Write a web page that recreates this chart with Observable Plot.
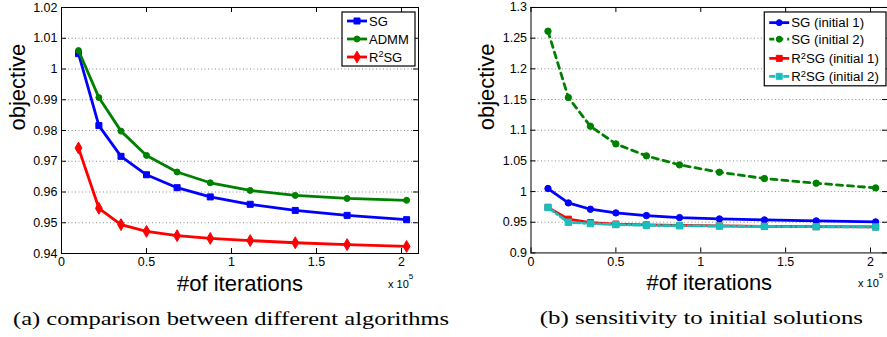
<!DOCTYPE html>
<html>
<head>
<meta charset="utf-8">
<script src="https://cdn.jsdelivr.net/npm/d3@7"></script>
<script src="https://cdn.jsdelivr.net/npm/@observablehq/plot@0.6"></script>
<style>
html, body { margin: 0; padding: 0; background: #fff; overflow: hidden; }
#wrap { position: relative; width: 887px; height: 337px; overflow: hidden; background: #fff; }
#a, #b { position: absolute; top: 0; }
#a { left: 0; }
#b { left: 440px; }
</style>
</head>
<body>
<div id="wrap"><div id="a"></div><div id="b"></div></div>
<script>
// ---- data ----
const iterations = [10000, 22000, 35000, 50000, 68000, 87500, 111000, 137500, 168000, 203000];
const xTicks = [0, 50000, 100000, 150000, 200000];

// (a) comparison between different algorithms
const sgA   = [1.0050, 0.9816, 0.9716, 0.9656, 0.9614, 0.9584, 0.9560, 0.9540, 0.9524, 0.9510];
const admmA = [1.0060, 0.9907, 0.9798, 0.9719, 0.9665, 0.9630, 0.9605, 0.9589, 0.9579, 0.9573];
const r2sgA = [0.9743, 0.9547, 0.9494, 0.9472, 0.9458, 0.9449, 0.9442, 0.9435, 0.9429, 0.9423];
const yTicksA = [0.94, 0.95, 0.96, 0.97, 0.98, 0.99, 1.00, 1.01, 1.02];

// (b) sensitivity to initial solutions
const sgB1   = [1.0049, 0.9815, 0.9712, 0.9652, 0.9609, 0.9576, 0.9554, 0.9538, 0.9522, 0.9505];
const sgB2   = [1.2614, 1.1533, 1.1065, 1.0777, 1.0582, 1.0435, 1.0315, 1.0212, 1.0136, 1.0060];
const r2sgB1 = [0.9743, 0.9550, 0.9494, 0.9470, 0.9457, 0.9448, 0.9441, 0.9434, 0.9428, 0.9423];
const r2sgB2 = [0.9740, 0.9500, 0.9478, 0.9462, 0.9449, 0.9443, 0.9437, 0.9432, 0.9427, 0.9422];
const yTicksB = [0.90, 0.95, 1.00, 1.05, 1.10, 1.15, 1.20, 1.25, 1.30];

const FONT = "'Liberation Sans', Arial, Helvetica, sans-serif";
const SERIF = "'Liberation Serif', 'DejaVu Serif', serif";

function rows(vals) { return iterations.map((x, i) => ({x, y: vals[i]})); }
function fmtY(d) { return String(+d.toFixed(3)); }

function panel({width, marginLeft, marginRight, yDomain, yTicks, series}) {
  const marginTop = 7, marginBottom = 84, height = 337;
  const pw = width - marginLeft - marginRight;
  const ph = height - marginTop - marginBottom;
  const marks = [
    Plot.gridY(yTicks.slice(1, -1), {stroke: "#8a8a8a", strokeOpacity: 1, strokeDasharray: "1,2.5", strokeWidth: 1}),
    // inward ticks on all four sides
    Plot.tickY(yTicks, {y: d => d, insetRight: pw - 5, stroke: "black"}),
    Plot.tickY(yTicks, {y: d => d, insetLeft: pw - 5, stroke: "black"}),
    Plot.tickX(xTicks, {x: d => d, insetTop: ph - 5, stroke: "black"}),
    Plot.tickX(xTicks, {x: d => d, insetBottom: ph - 5, stroke: "black"}),
    Plot.axisY({ticks: yTicks, tickSize: 0, tickPadding: 4, tickFormat: fmtY, fontSize: 12.5, label: null}),
    Plot.axisX({ticks: xTicks, tickSize: 0, tickPadding: 4, tickFormat: d => String(d / 1e5), fontSize: 12.5, label: null}),
  ];
  for (const s of series) {
    marks.push(Plot.line(rows(s.values), {x: "x", y: "y", stroke: s.color, strokeWidth: 2.8, strokeDasharray: s.dash || null}));
    marks.push(Plot.dot(rows(s.values), {x: "x", y: "y", symbol: s.symbol, r: s.r, fill: s.color, stroke: s.color, strokeWidth: 1}));
  }
  marks.push(Plot.frame({stroke: "black", strokeWidth: 1}));
  marks.push(Plot.text(["#of iterations"], {frameAnchor: "bottom", lineAnchor: "middle", dy: 30, fontSize: 22, fill: "black"}));
  marks.push(Plot.text(["objective"], {frameAnchor: "left", rotate: -90, dx: -44, fontSize: 22, fill: "black"}));
  return Plot.plot({
    width, height, marginLeft, marginRight, marginTop, marginBottom,
    style: {fontFamily: FONT, fontSize: "12.5px", color: "black", background: "transparent", overflow: "visible"},
    x: {domain: [0, 210000], label: null},
    y: {domain: yDomain, label: null},
    marks
  });
}

function addLegend(svg, {x, y, w, h, items, fontSize}) {
  const g = d3.select(svg).append("g").attr("font-family", FONT).attr("font-size", fontSize)
    .attr("text-anchor", "start");
  g.append("rect").attr("x", x).attr("y", y).attr("width", w).attr("height", h)
    .attr("fill", "white").attr("stroke", "black").attr("stroke-width", 1.2);
  for (const it of items) {
    g.append("line").attr("x1", x + 5).attr("x2", x + 25).attr("y1", it.y).attr("y2", it.y)
      .attr("stroke", it.color).attr("stroke-width", 2.8).attr("stroke-dasharray", it.dash || null);
    const cx = x + 15, cy = it.y;
    const sym = {circle: d3.symbolCircle, square: d3.symbolSquare, diamond: d3.symbolDiamond}[it.symbol];
    g.append("path").attr("transform", `translate(${cx},${cy})`)
      .attr("d", d3.symbol(sym, it.symbol === "square" ? 36 : it.symbol === "diamond" ? 40 : 28)())
      .attr("fill", it.color).attr("stroke", it.color);
    const t = g.append("text").attr("x", x + 27).attr("y", it.y).attr("dy", "0.35em").attr("fill", "black")
      .attr("text-anchor", "start");
    if (it.sup) {
      t.append("tspan").text("R");
      t.append("tspan").attr("font-size", fontSize * 0.7).attr("dy", "-0.45em").text("2");
      t.append("tspan").attr("dy", "0.32em").text(it.label);
    } else {
      t.text(it.label);
    }
  }
}

function addExp(svg, x) {
  const g = d3.select(svg).append("g").attr("font-family", FONT).attr("fill", "black").attr("text-anchor", "start");
  const t = g.append("text").attr("x", x).attr("y", 288).attr("font-size", 11);
  t.append("tspan").text("x 10");
  t.append("tspan").attr("font-size", 8).attr("dy", -9).text("5");
}

function addCaption(svg, x, len, text) {
  d3.select(svg).append("text").attr("x", x).attr("y", 325).attr("text-anchor", "start")
    .attr("font-family", SERIF).attr("font-size", 18).attr("fill", "black")
    .attr("textLength", len).attr("lengthAdjust", "spacingAndGlyphs").text(text);
}

// ---- panel (a) ----
const blue = "#0000ff", green = "#008000", red = "#ff0000", cyan = "#19bfbf";
const svgA = panel({
  width: 440, marginLeft: 61, marginRight: 22,
  yDomain: [0.94, 1.02], yTicks: yTicksA,
  series: [
    {values: sgA, color: blue, symbol: "square", r: 3.4},
    {values: admmA, color: green, symbol: "circle", r: 3},
    {values: r2sgA, color: red, symbol: "diamond", r: 3.6}
  ]
});
document.getElementById("a").appendChild(svgA);
addLegend(svgA, {x: 342, y: 12, w: 73, h: 54, fontSize: 13, items: [
  {y: 21, color: blue, symbol: "square", label: "SG"},
  {y: 39, color: green, symbol: "circle", label: "ADMM"},
  {y: 57, color: red, symbol: "diamond", label: "SG", sup: true}
]});
addExp(svgA, 388);
addCaption(svgA, 13, 436, "(a) comparison between different algorithms");

// ---- panel (b) ----
const svgB = panel({
  width: 448, marginLeft: 90.7, marginRight: 0,
  yDomain: [0.9, 1.3], yTicks: yTicksB,
  series: [
    {values: sgB2, color: green, symbol: "circle", r: 3.2, dash: "6,5"},
    {values: sgB1, color: blue, symbol: "circle", r: 3.2},
    {values: r2sgB1, color: red, symbol: "square", r: 3.4},
    {values: r2sgB2, color: cyan, symbol: "square", r: 3.6, dash: "7,3,2,3"}
  ]
});
document.getElementById("b").appendChild(svgB);
addLegend(svgB, {x: 325, y: 12, w: 122, h: 74, fontSize: 13.3, items: [
  {y: 22.7, color: blue, symbol: "circle", label: "SG (initial 1)"},
  {y: 39.3, color: green, symbol: "circle", label: "SG (initial 2)", dash: "5,4"},
  {y: 58.5, color: red, symbol: "square", label: "SG (initial 1)", sup: true},
  {y: 76.5, color: cyan, symbol: "square", label: "SG (initial 2)", sup: true, dash: "6,3,2,3"}
]});
addExp(svgB, 419);
addCaption(svgB, 100, 324, "(b) sensitivity to initial solutions");
</script>
</body>
</html>
